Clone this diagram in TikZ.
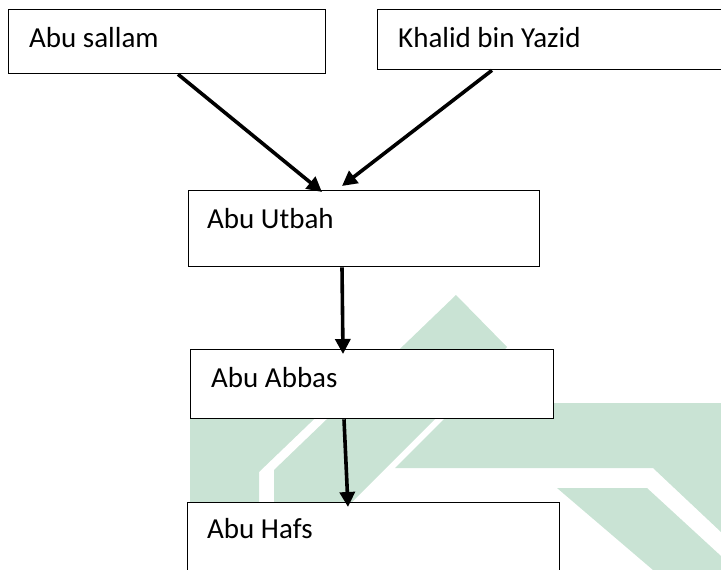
\documentclass[tikz,border=0pt]{standalone}
\usepackage{fontspec}
\setmainfont{Carlito}
\usetikzlibrary{arrows.meta,calc}
\definecolor{wmgreen}{RGB}{201,227,212}
\tikzset{
  person/.style={draw=black, line width=1.3pt, fill=white, rectangle,
                 inner sep=0pt, anchor=north west},
  personname/.style={anchor=base west, inner sep=0pt,
                     font=\fontsize{29}{34}\selectfont},
  link/.style={line width=3.6pt, -{Triangle[length=15pt,width=15pt]}},
}
\begin{document}
\begin{tikzpicture}[x=1pt,y=-1pt]
\useasboundingbox (0,0) rectangle (721,570);
\clip (0,0) rectangle (721,570);

% background emblem
\fill[wmgreen] (456,295) -- (507,347) -- (334,520) -- (274,520) -- (274,470) -- cycle;
\fill[wmgreen] (190,375) -- (360,375) -- (259,472) -- (259,520) -- (190,520) -- cycle;
\fill[wmgreen] (460,403) -- (721,403) -- (721,532) -- (653,468) -- (395,468) -- cycle;
\fill[wmgreen] (557,488) -- (647,488) -- (721,556) -- (721,570) -- (653,570) -- cycle;

% boxes
\node[person, minimum width=317pt, minimum height=64pt] (sallam) at (8,9) {};
\node[person, minimum width=370pt, minimum height=60pt] (khalid) at (377,9) {};
\node[person, minimum width=351pt, minimum height=76pt] (utbah) at (188,190) {};
\node[person, minimum width=363pt, minimum height=69pt] (abbas) at (190,349) {};
\node[person, minimum width=372pt, minimum height=100pt] (hafs) at (187,502) {};

% names
\node[personname] (tsallam) at (29,47) {Abu sallam};
\node[personname] (tkhalid) at (398,47) {Khalid bin Yazid};
\node[personname] (tutbah) at (207,228) {Abu Utbah};
\node[personname] (tabbas) at (211,387) {Abu Abbas};
\node[personname] (thafs) at (207,538) {Abu Hafs};

% connectors
\draw[link] ($(sallam.south west)+(170,0)$) -- ($(utbah.north west)+(134,2)$);
\draw[link] ($(khalid.south west)+(115,0)$) -- ($(utbah.north west)+(154,-4)$);
\draw[link] ($(utbah.south west)+(154,0)$) -- ($(abbas.north west)+(153,5)$);
\draw[link] ($(abbas.south west)+(154,0)$) -- ($(hafs.north west)+(161,5)$);
\end{tikzpicture}
\end{document}
